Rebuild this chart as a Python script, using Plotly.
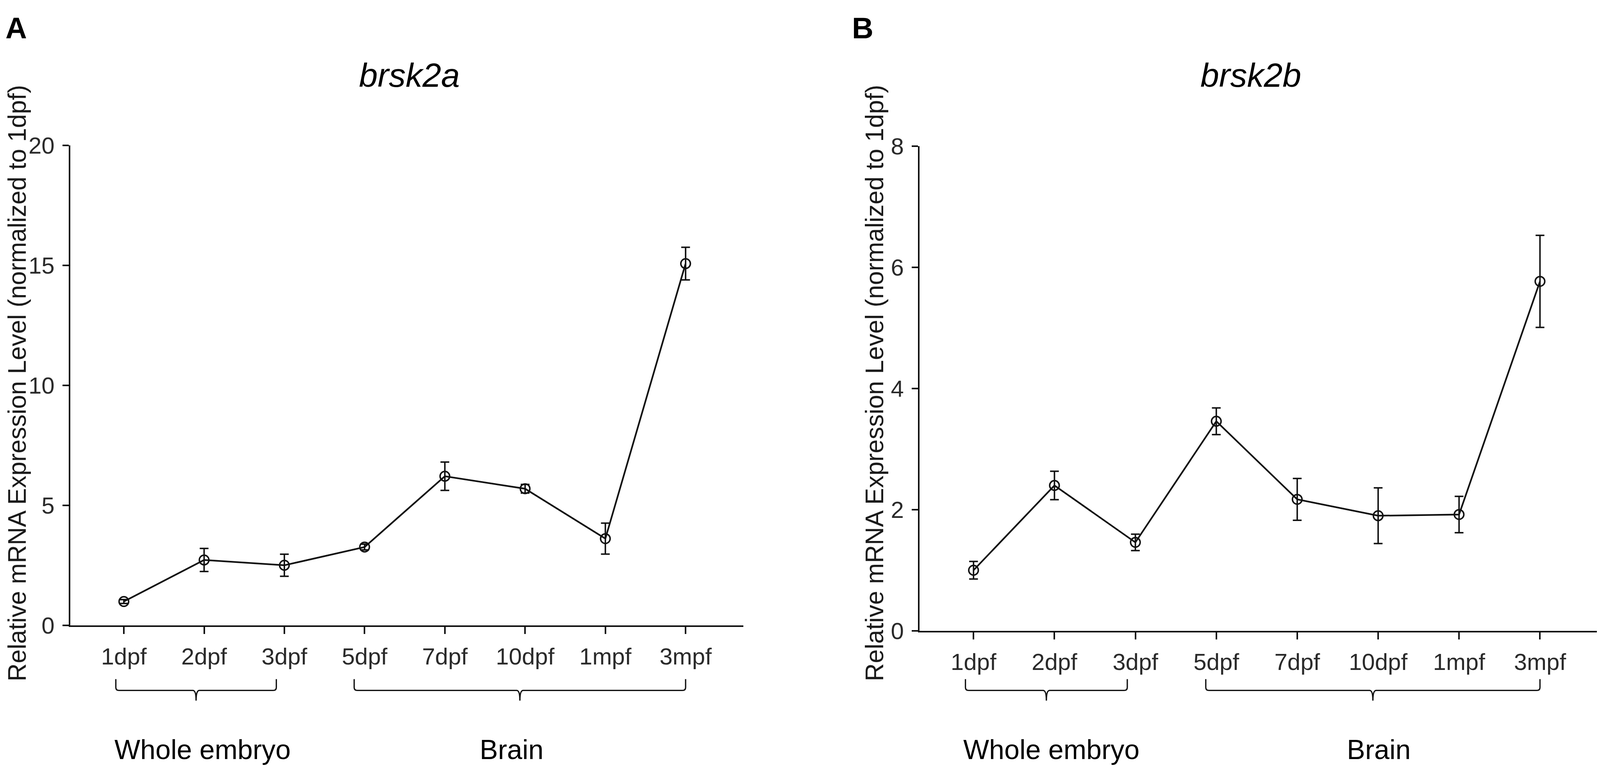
import plotly.graph_objects as go

# reference picture size in pixels
W, H = 4550, 1993
# the page is shown narrower than 4550 css px (about 4092), so sizes are
# scaled: SX ref px per css px across, SY down; M is the page body margin
SX = 1.112
SY = 1.0
M = 8
FW = W / SX - 2 * M
FH = H / SY - 2 * M

stages = ['1dpf', '2dpf', '3dpf', '5dpf', '7dpf', '10dpf', '1mpf', '3mpf']
brsk2a_mean = [1.0, 2.73, 2.51, 3.27, 6.22, 5.70, 3.62, 15.08]
brsk2a_err = [0.08, 0.48, 0.46, 0.12, 0.59, 0.18, 0.645, 0.68]
brsk2b_mean = [1.0, 2.40, 1.46, 3.46, 2.17, 1.90, 1.92, 5.77]
brsk2b_err = [0.145, 0.235, 0.135, 0.22, 0.345, 0.46, 0.30, 0.76]
genes = ['brsk2a', 'brsk2b']
panel_labels = ['A', 'B']
groups = ['Whole embryo', 'Brain']
ytitle = 'Relative mRNA Expression Level (normalized to 1dpf)'

FONT = 'Liberation Sans, Arial, sans-serif'
INK = '#111111'


def px(x):
    return (x / SX - M) / FW


def py(y):
    return 1 - (y / SY - M) / FH


def clamp(v):
    return max(0.0, min(1.0, v))


def sz(v):
    return v / 1.06


fig = go.Figure()

xs = list(range(len(stages)))
for i, (m, e) in enumerate([(brsk2a_mean, brsk2a_err), (brsk2b_mean, brsk2b_err)]):
    sfx = '' if i == 0 else '2'
    fig.add_trace(go.Scatter(
        x=xs, y=m, xaxis='x' + sfx, yaxis='y' + sfx,
        mode='lines+markers',
        line=dict(color=INK, width=sz(4.5)),
        marker=dict(symbol='circle-open', size=sz(26), color=INK,
                    line=dict(width=sz(4), color=INK)),
        error_y=dict(type='data', array=e, visible=True, color=INK,
                     thickness=sz(4), width=12.5 / SX),
        showlegend=False, hoverinfo='x+y',
    ))

# panel geometry in reference pixels: (x left, x right, y top, y bottom)
panels = [(200, 2114, 351, 1622), (2615, 4545, 353, 1636)]
yranges = [[0, 20], [0, 8]]
ydticks = [5, 2]

axis_common = dict(showline=True, linewidth=sz(4.5), linecolor=INK, ticks='outside',
                   tickwidth=sz(4.5), tickcolor=INK, showgrid=False,
                   zeroline=False, fixedrange=True)

layout = dict(height=round(FH), autosize=True, margin=dict(l=0, r=0, t=0, b=0),
              paper_bgcolor='white', plot_bgcolor='white',
              font=dict(family=FONT, color=INK))

for i, (x0, x1, y0, y1) in enumerate(panels):
    sfx = '' if i == 0 else '2'
    # the right end of panel B sits on the page edge
    xr = [-0.667, 7.72]
    if px(x1) > 1:
        xr = [-0.667, -0.667 + (7.72 + 0.667) * (1 - px(x0)) / (px(x1) - px(x0))]
    layout['xaxis' + sfx] = dict(
        domain=[clamp(px(x0)), clamp(px(x1))], anchor='y' + sfx, range=xr,
        tickmode='array', tickvals=xs, ticktext=stages, ticklen=18 / SY,
        tickfont=dict(size=60, color='#2a2a2a', family=FONT),
        ticklabelstandoff=6, **axis_common)
    layout['yaxis' + sfx] = dict(
        domain=[clamp(py(y1)), clamp(py(y0))], anchor='x' + sfx, range=yranges[i],
        tickmode='linear', tick0=0, dtick=ydticks[i], ticklen=18 / SX,
        tickfont=dict(size=60, color='#2a2a2a', family=FONT),
        ticklabelstandoff=8, **axis_common)

fig.update_layout(**layout)

annotations = []
shapes = []

title_x = [1164, 3557]
label_x = [13, 2420]
ytitle_x = [49, 2487]
group_text_x = [(576, 1455), (2990, 3921)]
group_spans = [(-0.1, 1.9), (2.87, 7.0)]

for i in range(2):
    sfx = '' if i == 0 else '2'
    annotations.append(dict(text='<b>%s</b>' % panel_labels[i], x=px(label_x[i]), y=py(-6),
                            xref='paper', yref='paper', xanchor='left', yanchor='top',
                            showarrow=False, font=dict(size=76, color='black', family=FONT)))
    annotations.append(dict(text='<i>%s</i>' % genes[i], x=px(title_x[i]), y=py(164),
                            xref='paper', yref='paper', xanchor='center', yanchor='middle',
                            showarrow=False, font=dict(size=86, color='black', family=FONT)))
    annotations.append(dict(text=ytitle, x=px(ytitle_x[i]), y=py(980), textangle=-90,
                            xref='paper', yref='paper', xanchor='center', yanchor='middle',
                            showarrow=False, font=dict(size=64, color='#1a1a1a', family=FONT)))
    for g, name in enumerate(groups):
        annotations.append(dict(text=name, x=px(group_text_x[i][g]), y=py(1951),
                                xref='paper', yref='paper', xanchor='center', yanchor='middle',
                                showarrow=False, font=dict(size=70, color='black', family=FONT)))
        a, b = group_spans[g]
        c = (a + b) / 2
        yt, yl, yb = py(1764), py(1794), py(1821)
        yq = py(1786)
        d = 0.04
        path = ('M {a},{yt} L {a},{yq} Q {a},{yl} {ad},{yl} L {cl},{yl} Q {c},{yl} {c},{yb} '
                'Q {c},{yl} {cr},{yl} L {bd},{yl} Q {b},{yl} {b},{yq} L {b},{yt}').format(
            a=a, b=b, c=c, ad=a + d, bd=b - d, cl=c - d, cr=c + d, yt=yt, yl=yl, yb=yb, yq=yq)
        shapes.append(dict(type='path', path=path, xref='x' + sfx, yref='paper',
                           line=dict(color=INK, width=sz(3.5))))

fig.update_layout(annotations=annotations, shapes=shapes)

fig.write_html("out.html")
